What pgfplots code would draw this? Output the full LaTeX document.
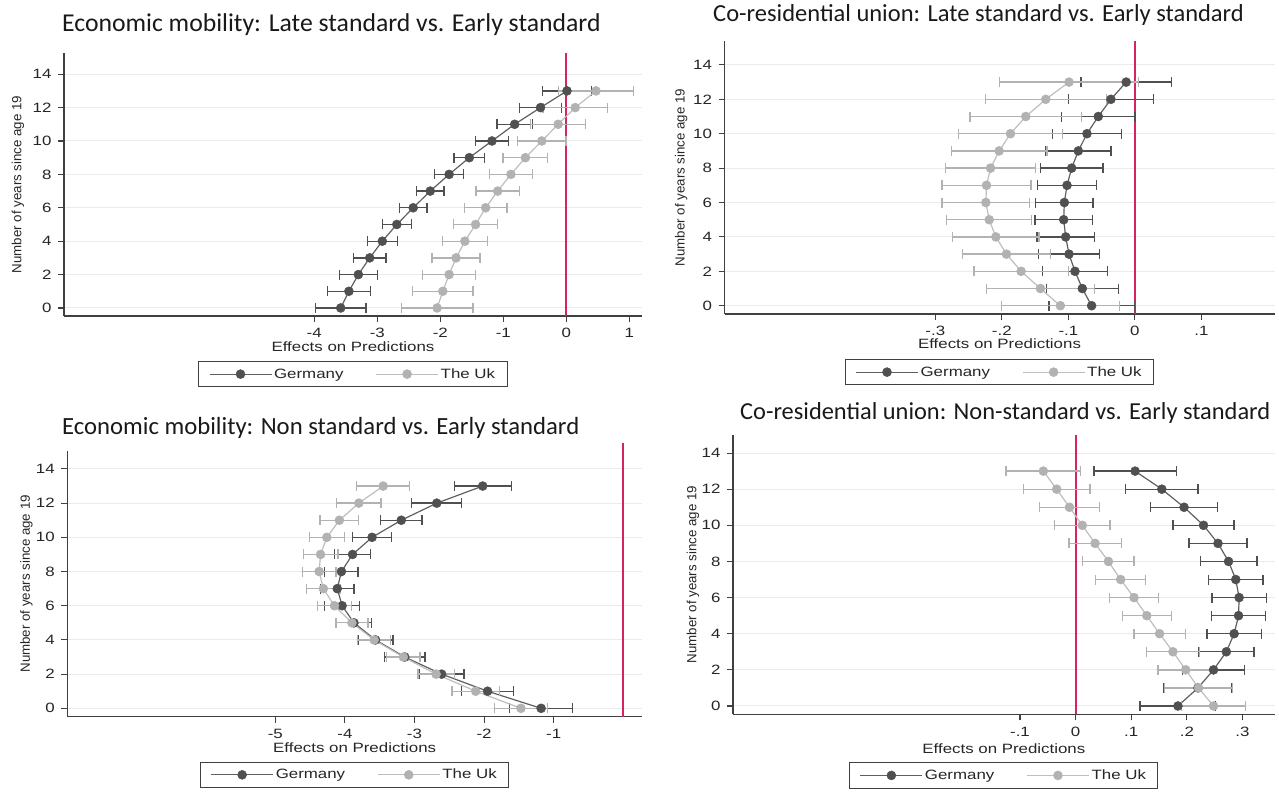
\documentclass[border=0pt]{standalone}
\usepackage{pgfplots}
\pgfplotsset{compat=1.18}
\usepackage{fontspec}
\setmainfont{Liberation Sans}[FakeStretch=1.25]
\newfontfamily\ylabfont{Liberation Sans}
\newfontfamily\titlefont{Carlito}
\definecolor{ger}{RGB}{80,80,80}
\definecolor{gerl}{RGB}{95,95,95}
\definecolor{uk}{RGB}{178,178,178}
\definecolor{ukl}{RGB}{190,190,190}
\definecolor{redline}{RGB}{215,35,100}
\newcommand\tf{\fontsize{13.5}{15}\selectfont}

\pgfplotsset{
 stata/.style={
  scale only axis, anchor=south west,
  axis lines=left, axis line style={-, line width=1.3pt, black!75},
  tick align=outside, major tick length=6pt, tick style={line width=1.1pt, black!75},
  ytick={0,2,...,14}, yticklabels={0,2,4,6,8,10,12,14},
  ymajorgrids, major grid style={line width=1pt, black!8},
  ticklabel style={font=\tf, text=black!85},
  xticklabel style={yshift=-3pt}, yticklabel style={xshift=-3pt},
  xlabel={Effects on Predictions}, ylabel={Number of years since age 19},
  every axis x label/.style={at={(axis description cs:0.5,0)}, anchor=center, font=\tf, text=black!85},
  every axis y label/.style={at={(axis description cs:-0.08,0.5)}, anchor=center, rotate=90, font=\ylabfont\fontsize{13.3}{14}\selectfont, text=black!85},
  legend columns=2, legend cell align=left,
  legend style={font=\tf, draw=black!75, line width=1pt, text=black!85,
    at={(axis description cs:0.5,0)}, anchor=north,
    inner xsep=10pt, inner ysep=5pt, /tikz/every even column/.append style={column sep=30pt}},
  legend image code/.code={\draw[mark repeat=2,mark phase=2] plot coordinates {(0pt,0pt) (31pt,0pt) (62pt,0pt)};},
  clip=false,
 },
 zeroline/.style={draw=redline, color=redline, line width=1.9pt, mark=none, forget plot},
 gerplot/.style={color=gerl, line width=1.2pt, mark=*, mark size=4.5pt, mark options={fill=ger, draw=ger, line width=0.5pt},
   error bars/.cd, x dir=both, x explicit, error bar style={line width=1.3pt, ger},
   error mark options={rotate=90, mark size=5pt, line width=1.3pt, ger}},
 ukplot/.style={color=ukl, line width=1.2pt, mark=*, mark size=4.5pt, mark options={fill=uk, draw=uk, line width=0.5pt},
   error bars/.cd, x dir=both, x explicit, error bar style={line width=1.3pt, uk},
   error mark options={rotate=90, mark size=5pt, line width=1.3pt, uk}},
}

\begin{document}
\begin{tikzpicture}
\path[use as bounding box] (0pt,0pt) rectangle (1279pt,799pt);

% ---------- Top left ----------
\node[anchor=west, font=\titlefont\fontsize{25.7}{28}\selectfont, inner sep=0, text=black!90] at (62pt,774pt) {Economic mobility: Late standard vs. Early standard};
\begin{axis}[stata, at={(64pt,483pt)}, width=578pt, height=263pt,
  xmin=-7.97, xmax=1.2, ymin=-0.48, ymax=15.27,
  xtick={-4,-3,-2,-1,0,1}, xticklabels={-4,-3,-2,-1,0,1},
  xlabel style={yshift=-31pt}, ylabel style={at={(axis description cs:-0.0796,0.5)}},
  legend style={yshift=-45pt}]
\addplot[zeroline] coordinates {(0,-0.48) (0,15.27)};
\addplot[gerplot] coordinates {
(-3.58,0) +- (0.40,0)
(-3.45,1) +- (0.34,0)
(-3.30,2) +- (0.30,0)
(-3.12,3) +- (0.26,0)
(-2.92,4) +- (0.24,0)
(-2.69,5) +- (0.23,0)
(-2.43,6) +- (0.22,0)
(-2.16,7) +- (0.22,0)
(-1.86,8) +- (0.23,0)
(-1.54,9) +- (0.245,0)
(-1.18,10) +- (0.26,0)
(-0.82,11) +- (0.28,0)
(-0.41,12) +- (0.33,0)
(0.01,13) +- (0.39,0)
};
\addlegendentry{Germany}
\addplot[ukplot] coordinates {
(-2.05,0) +- (0.57,0)
(-1.96,1) +- (0.48,0)
(-1.86,2) +- (0.42,0)
(-1.75,3) +- (0.38,0)
(-1.61,4) +- (0.355,0)
(-1.44,5) +- (0.35,0)
(-1.28,6) +- (0.34,0)
(-1.09,7) +- (0.345,0)
(-0.88,8) +- (0.345,0)
(-0.65,9) +- (0.355,0)
(-0.39,10) +- (0.385,0)
(-0.13,11) +- (0.435,0)
(0.14,12) +- (0.51,0)
(0.47,13) +- (0.60,0)
};
\addlegendentry{The Uk}
\end{axis}

% ---------- Top right ----------
\node[anchor=west, font=\titlefont\fontsize{24.5}{27}\selectfont, inner sep=0, text=black!90] at (713pt,784pt) {Co-residential union: Late standard vs. Early standard};
\begin{axis}[stata, at={(724.5pt,485pt)}, width=550pt, height=273pt,
  xmin=-0.617, xmax=0.21, ymin=-0.48, ymax=15.39,
  xtick={-0.3,-0.2,-0.1,0,0.1}, xticklabels={-.3,-.2,-.1,0,.1},
  xlabel style={yshift=-30pt}, ylabel style={at={(axis description cs:-0.079,0.5)}},
  legend style={yshift=-45pt}]
\addplot[zeroline] coordinates {(0,-0.48) (0,15.39)};
\addplot[gerplot] coordinates {
(-0.065,0) +- (0.064,0)
(-0.079,1) +- (0.054,0)
(-0.090,2) +- (0.049,0)
(-0.099,3) +- (0.046,0)
(-0.104,4) +- (0.043,0)
(-0.107,5) +- (0.043,0)
(-0.106,6) +- (0.043,0)
(-0.102,7) +- (0.044,0)
(-0.095,8) +- (0.047,0)
(-0.085,9) +- (0.049,0)
(-0.072,10) +- (0.052,0)
(-0.055,11) +- (0.055,0)
(-0.036,12) +- (0.064,0)
(-0.013,13) +- (0.068,0)
};
\addlegendentry{Germany}
\addplot[ukplot] coordinates {
(-0.112,0) +- (0.089,0)
(-0.142,1) +- (0.081,0)
(-0.171,2) +- (0.071,0)
(-0.193,3) +- (0.066,0)
(-0.209,4) +- (0.065,0)
(-0.219,5) +- (0.064,0)
(-0.224,6) +- (0.066,0)
(-0.223,7) +- (0.067,0)
(-0.217,8) +- (0.068,0)
(-0.204,9) +- (0.072,0)
(-0.187,10) +- (0.078,0)
(-0.164,11) +- (0.084,0)
(-0.134,12) +- (0.091,0)
(-0.099,13) +- (0.105,0)
};
\addlegendentry{The Uk}
\end{axis}

% ---------- Bottom left ----------
\node[anchor=west, font=\titlefont\fontsize{24.7}{27}\selectfont, inner sep=0, text=black!90] at (62pt,371pt) {Economic mobility: Non standard vs. Early standard};
\begin{axis}[stata, at={(67.3pt,82.3pt)}, width=574.7pt, height=265.7pt,
  xmin=-7.99, xmax=0.27, ymin=-0.49, ymax=15.05,
  xtick={-5,-4,-3,-2,-1}, xticklabels={-5,-4,-3,-2,-1},
  xlabel style={yshift=-31pt}, ylabel style={at={(axis description cs:-0.0713,0.5)}},
  legend style={yshift=-45pt}]
\addplot[zeroline] coordinates {(0,-0.49) (0,15.5)};
\addplot[gerplot] coordinates {
(-1.18,0) +- (0.45,0)
(-1.95,1) +- (0.37,0)
(-2.61,2) +- (0.32,0)
(-3.14,3) +- (0.29,0)
(-3.56,4) +- (0.25,0)
(-3.87,5) +- (0.25,0)
(-4.04,6) +- (0.25,0)
(-4.11,7) +- (0.24,0)
(-4.05,8) +- (0.24,0)
(-3.89,9) +- (0.26,0)
(-3.61,10) +- (0.28,0)
(-3.19,11) +- (0.30,0)
(-2.68,12) +- (0.36,0)
(-2.02,13) +- (0.41,0)
};
\addlegendentry{Germany}
\addplot[ukplot] coordinates {
(-1.47,0) +- (0.38,0)
(-2.12,1) +- (0.34,0)
(-2.69,2) +- (0.26,0)
(-3.16,3) +- (0.24,0)
(-3.58,4) +- (0.24,0)
(-3.90,5) +- (0.23,0)
(-4.15,6) +- (0.24,0)
(-4.31,7) +- (0.24,0)
(-4.37,8) +- (0.24,0)
(-4.35,9) +- (0.25,0)
(-4.26,10) +- (0.25,0)
(-4.08,11) +- (0.28,0)
(-3.80,12) +- (0.32,0)
(-3.45,13) +- (0.38,0)
};
\addlegendentry{The Uk}
\end{axis}

% ---------- Bottom right ----------
\node[anchor=west, font=\titlefont\fontsize{24.4}{27}\selectfont, inner sep=0, text=black!90] at (740pt,386pt) {Co-residential union: Non-standard vs. Early standard};
\begin{axis}[stata, at={(733pt,84.7pt)}, width=541.7pt, height=279.3pt,
  xmin=-0.616, xmax=0.358, ymin=-0.46, ymax=15.0,
  xtick={-0.1,0,0.1,0.2,0.3}, xticklabels={-.1,0,.1,.2,.3},
  xlabel style={yshift=-34pt}, ylabel style={at={(axis description cs:-0.0738,0.5)}},
  legend style={yshift=-48pt}]
\addplot[zeroline] coordinates {(0,-0.46) (0,15.0)};
\addplot[gerplot] coordinates {
(0.184,0) +- (0.068,0)
(0.220,1) +- (0.061,0)
(0.248,2) +- (0.056,0)
(0.271,3) +- (0.050,0)
(0.285,4) +- (0.049,0)
(0.293,5) +- (0.049,0)
(0.294,6) +- (0.049,0)
(0.288,7) +- (0.049,0)
(0.275,8) +- (0.051,0)
(0.256,9) +- (0.052,0)
(0.230,10) +- (0.055,0)
(0.195,11) +- (0.060,0)
(0.155,12) +- (0.065,0)
(0.107,13) +- (0.074,0)
};
\addlegendentry{Germany}
\addplot[ukplot] coordinates {
(0.248,0) +- (0.058,0)
(0.221,1) +- (0.061,0)
(0.198,2) +- (0.050,0)
(0.175,3) +- (0.048,0)
(0.151,4) +- (0.046,0)
(0.128,5) +- (0.044,0)
(0.105,6) +- (0.044,0)
(0.081,7) +- (0.045,0)
(0.059,8) +- (0.046,0)
(0.035,9) +- (0.047,0)
(0.012,10) +- (0.050,0)
(-0.011,11) +- (0.054,0)
(-0.034,12) +- (0.060,0)
(-0.058,13) +- (0.067,0)
};
\addlegendentry{The Uk}
\end{axis}
\end{tikzpicture}
\end{document}
